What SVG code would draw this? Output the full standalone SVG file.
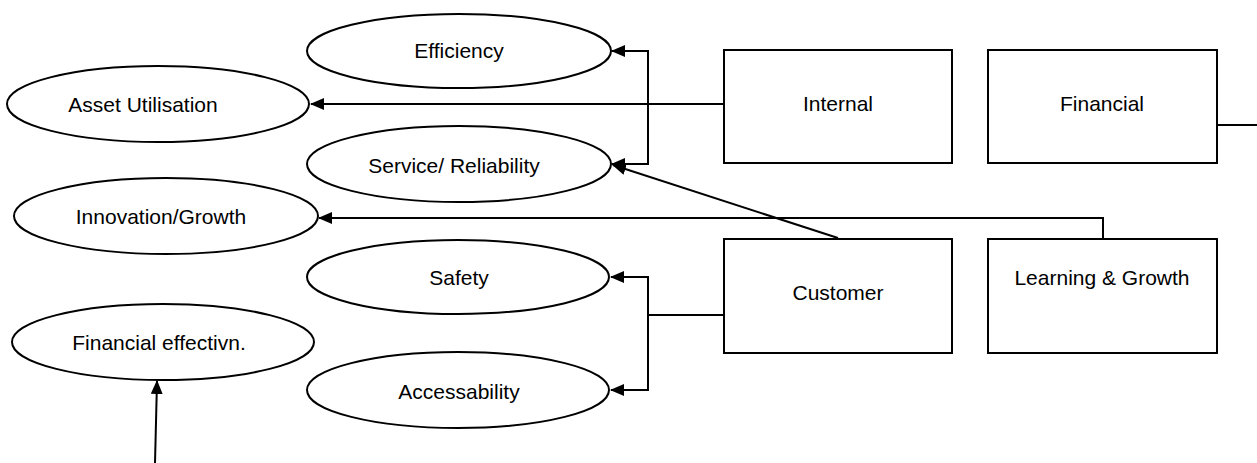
<svg xmlns="http://www.w3.org/2000/svg" width="1257" height="463" viewBox="0 0 1257 463">
  <style>
    .shape { fill: #ffffff; stroke: #000000; stroke-width: 2; }
    .label { font-family: "Liberation Sans", Arial, sans-serif; font-size: 21px; fill: #000000; text-anchor: middle; }
    .link { fill: none; stroke: #000000; stroke-width: 2; }
  </style>
  <defs>
    <marker id="arrow" markerWidth="14" markerHeight="12" refX="13" refY="6" orient="auto" markerUnits="userSpaceOnUse">
      <path d="M0,0 L14,6 L0,12 Z" fill="#000000"/>
    </marker>
  </defs>
  <rect width="1257" height="463" fill="#ffffff"/>

  <!-- connectors -->
  <g id="connectors">
    <!-- Internal to Asset Utilisation, Efficiency, Service -->
    <path class="link" d="M723,104 L311,104" marker-end="url(#arrow)"/>
    <path class="link" d="M648,104 L648,51 L612,51" marker-end="url(#arrow)"/>
    <path class="link" d="M648,104 L648,164 L612,164" marker-end="url(#arrow)"/>
    <!-- Customer to Service/ Reliability -->
    <path class="link" d="M838,238 L613,165" marker-end="url(#arrow)"/>
    <!-- Learning & Growth to Innovation/Growth -->
    <path class="link" d="M1103,238 L1103,218 L319,218" marker-end="url(#arrow)"/>
    <!-- Customer to Safety and Accessability -->
    <path class="link" d="M723,315 L648,315"/>
    <path class="link" d="M648,315 L648,277 L611,277" marker-end="url(#arrow)"/>
    <path class="link" d="M648,315 L648,390 L611,390" marker-end="url(#arrow)"/>
    <!-- Financial outgoing -->
    <path class="link" d="M1217,125 L1257,125"/>
    <!-- incoming to Financial effectivn. -->
    <path class="link" d="M155,463 L157,381" marker-end="url(#arrow)"/>
  </g>

  <!-- measure ellipses -->
  <g id="efficiency">
    <ellipse class="shape" cx="459" cy="51" rx="152" ry="37"/>
    <text class="label" x="459" y="58">Efficiency</text>
  </g>
  <g id="asset-utilisation">
    <ellipse class="shape" cx="158" cy="104" rx="151" ry="38"/>
    <text class="label" x="143" y="112">Asset Utilisation</text>
  </g>
  <g id="service-reliability">
    <ellipse class="shape" cx="459" cy="164" rx="152" ry="38"/>
    <text class="label" x="454" y="173">Service/ Reliability</text>
  </g>
  <g id="innovation-growth">
    <ellipse class="shape" cx="166" cy="216" rx="152" ry="38"/>
    <text class="label" x="161" y="224">Innovation/Growth</text>
  </g>
  <g id="safety">
    <ellipse class="shape" cx="458" cy="277" rx="151" ry="37"/>
    <text class="label" x="459" y="285">Safety</text>
  </g>
  <g id="financial-effectiveness">
    <ellipse class="shape" cx="163" cy="342" rx="151" ry="38"/>
    <text class="label" x="159" y="350">Financial effectivn.</text>
  </g>
  <g id="accessability">
    <ellipse class="shape" cx="458" cy="390" rx="151" ry="38"/>
    <text class="label" x="459" y="399">Accessability</text>
  </g>

  <!-- perspective boxes -->
  <g id="internal">
    <rect class="shape" x="724" y="50" width="228" height="113"/>
    <text class="label" x="838" y="111">Internal</text>
  </g>
  <g id="financial">
    <rect class="shape" x="988" y="50" width="229" height="113"/>
    <text class="label" x="1102" y="111">Financial</text>
  </g>
  <g id="customer">
    <rect class="shape" x="724" y="239" width="228" height="114"/>
    <text class="label" x="838" y="300">Customer</text>
  </g>
  <g id="learning-growth">
    <rect class="shape" x="988" y="239" width="229" height="114"/>
    <text class="label" x="1102" y="285">Learning &amp; Growth</text>
  </g>
</svg>
